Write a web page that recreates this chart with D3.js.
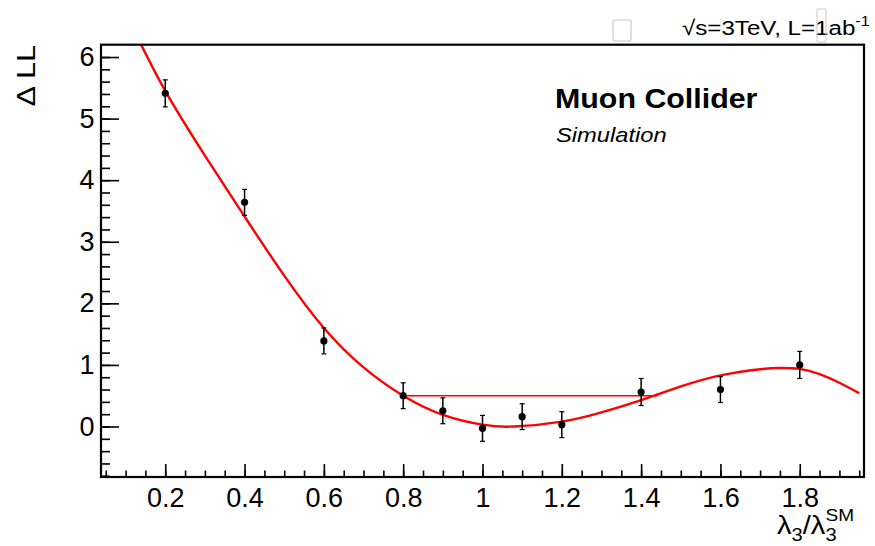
<!DOCTYPE html>
<html><head><meta charset="utf-8">
<script src="https://cdn.jsdelivr.net/npm/d3@7"></script>
<style>
html,body{margin:0;padding:0;background:#fff;}
svg text{font-family:"Liberation Sans",Arial,sans-serif;fill:#000;}
</style></head>
<body>
<svg id="c" width="875" height="546"></svg>
<script>
// ---- data ----
const pointX = [0.2, 0.4, 0.6, 0.8, 0.9, 1.0, 1.1, 1.2, 1.4, 1.6, 1.8];
const pointY = [5.41, 3.64, 1.39, 0.50, 0.255, -0.03, 0.16, 0.03, 0.56, 0.60, 1.00];
const pointErr = [0.22, 0.21, 0.21, 0.21, 0.21, 0.21, 0.21, 0.21, 0.22, 0.21, 0.22];
const curveX = [0.12, 0.2, 0.3, 0.4, 0.5, 0.6, 0.7, 0.8, 0.9, 1.0, 1.08, 1.2, 1.3, 1.4, 1.5, 1.6, 1.7, 1.75, 1.8, 1.85, 1.9, 1.95];
const curveY = [6.45, 5.45, 4.40, 3.41, 2.45, 1.60, 0.96, 0.50, 0.19, 0.03, 0.0, 0.08, 0.23, 0.43, 0.65, 0.83, 0.93, 0.95, 0.935, 0.85, 0.71, 0.54];
const bandLevel = [0.5];
const bandRange = [0.81, 1.442];
const xMajor = [0.2, 0.4, 0.6, 0.8, 1.0, 1.2, 1.4, 1.6, 1.8];
const xLabels = ["0.2", "0.4", "0.6", "0.8", "1", "1.2", "1.4", "1.6", "1.8"];
const yMajor = [0, 1, 2, 3, 4, 5, 6];
const yLabels = ["0", "1", "2", "3", "4", "5", "6"];

// ---- layout ----
const L = 101, R = 864, T = 44.7, B = 477;
const x = d3.scaleLinear().domain([0.038, 1.962]).range([L, R]);
const y = d3.scaleLinear().domain([-0.82, 6.2]).range([B, T]);
const svg = d3.select("#c");

const xMinor = d3.range(1, 40).map(i => +(i * 0.05).toFixed(2)).filter(v => v > 0.038 && v < 1.962);
const yMinor = d3.range(-4, 31).map(i => +(i * 0.2).toFixed(2)).filter(v => v > -0.82 && v < 6.2);

// minor ticks
svg.append("g").attr("transform", `translate(0,${B})`)
  .call(d3.axisBottom(x).tickValues(xMinor).tickSizeInner(-6.5).tickSizeOuter(0).tickFormat(""))
  .call(g => { g.select(".domain").remove(); g.selectAll("line").attr("stroke", "#000").attr("stroke-width", 1.6); });
svg.append("g").attr("transform", `translate(${L},0)`)
  .call(d3.axisLeft(y).tickValues(yMinor).tickSizeInner(-9).tickSizeOuter(0).tickFormat(""))
  .call(g => { g.select(".domain").remove(); g.selectAll("line").attr("stroke", "#000").attr("stroke-width", 1.6); });

// major ticks
svg.append("g").attr("transform", `translate(0,${B})`)
  .call(d3.axisBottom(x).tickValues(xMajor).tickSizeInner(-13).tickSizeOuter(0).tickPadding(11)
    .tickFormat((d, i) => xLabels[i]))
  .call(g => {
    g.select(".domain").remove();
    g.selectAll("line").attr("stroke", "#000").attr("stroke-width", 1.6);
    g.selectAll("text").attr("font-size", 27).attr("font-family", "Liberation Sans, Arial, sans-serif").attr("fill", "#000");
  });
svg.append("g").attr("transform", `translate(${L},0)`)
  .call(d3.axisLeft(y).tickValues(yMajor).tickSizeInner(-18).tickSizeOuter(0).tickPadding(6.5)
    .tickFormat((d, i) => yLabels[i]))
  .call(g => {
    g.select(".domain").remove();
    g.selectAll("line").attr("stroke", "#000").attr("stroke-width", 1.6);
    g.selectAll("text").attr("font-size", 27).attr("font-family", "Liberation Sans, Arial, sans-serif").attr("fill", "#000");
  });

// clip
svg.append("clipPath").attr("id", "clip").append("rect")
  .attr("x", L).attr("y", T).attr("width", R - L).attr("height", B - T);

const plot = svg.append("g").attr("clip-path", "url(#clip)");

// band line
plot.append("line")
  .attr("x1", x(bandRange[0])).attr("x2", x(bandRange[1]))
  .attr("y1", y(bandLevel[0])).attr("y2", y(bandLevel[0]))
  .attr("stroke", "#ff0000").attr("stroke-width", 1.4);

// fit curve
const curveData = curveX.map((v, i) => [v, curveY[i]]);
plot.append("path").datum(curveData)
  .attr("d", d3.line().x(d => x(d[0])).y(d => y(d[1])).curve(d3.curveNatural))
  .attr("fill", "none").attr("stroke", "#ff0000").attr("stroke-width", 2.4);

// points with error bars
const pts = pointX.map((v, i) => ({ x: v, y: pointY[i], e: pointErr[i] }));
const pg = plot.selectAll("g.pt").data(pts).enter().append("g").attr("class", "pt");
pg.append("line").attr("x1", d => x(d.x)).attr("x2", d => x(d.x))
  .attr("y1", d => y(d.y + d.e)).attr("y2", d => y(d.y - d.e)).attr("stroke", "#000").attr("stroke-width", 1.5);
pg.append("line").attr("x1", d => x(d.x) - 2.5).attr("x2", d => x(d.x) + 2.5)
  .attr("y1", d => y(d.y + d.e)).attr("y2", d => y(d.y + d.e)).attr("stroke", "#000").attr("stroke-width", 1.2);
pg.append("line").attr("x1", d => x(d.x) - 2.5).attr("x2", d => x(d.x) + 2.5)
  .attr("y1", d => y(d.y - d.e)).attr("y2", d => y(d.y - d.e)).attr("stroke", "#000").attr("stroke-width", 1.2);
pg.append("circle").attr("cx", d => x(d.x)).attr("cy", d => y(d.y)).attr("r", 3.6).attr("fill", "#000");

// frame
svg.append("rect").attr("x", L).attr("y", T).attr("width", R - L).attr("height", B - T)
  .attr("fill", "none").attr("stroke", "#000").attr("stroke-width", 2.2);

// y title
svg.append("text").attr("transform", "translate(35,45) rotate(-90) scale(1.18,1)")
  .attr("text-anchor", "end").attr("font-size", 26).style("white-space", "pre").text("Δ LL");

// x title
const xt = svg.append("text").attr("transform", "translate(777,534) scale(1.12,1)").attr("font-size", 26);
xt.append("tspan").text("λ");
xt.append("tspan").attr("font-size", 18).attr("dy", 7).text("3");
xt.append("tspan").attr("dy", -7).text("/λ");
xt.append("tspan").attr("font-size", 18).attr("dy", 7).text("3");
xt.append("tspan").attr("font-size", 17).attr("dx", -10).attr("dy", -20).text("SM");

// labels
svg.append("text").attr("transform", "translate(555,108) scale(1.085,1)")
  .attr("font-size", 28).attr("font-weight", "bold").text("Muon Collider");
svg.append("text").attr("transform", "translate(556,142) scale(1.13,1)")
  .attr("font-size", 21).attr("font-style", "italic").text("Simulation");

// top text
const tt = svg.append("text").attr("transform", "translate(682,35) scale(1.15,1)").attr("font-size", 21);
tt.append("tspan").text("√s=3TeV, L=1ab");
tt.append("tspan").attr("font-size", 14).attr("dy", -9).text("-1");

// glyph boxes
svg.append("rect").attr("x", 613).attr("y", 20).attr("width", 18).attr("height", 21).attr("rx", 2)
  .attr("fill", "none").attr("stroke", "#c8c8c8").attr("stroke-width", 1.2);
svg.append("rect").attr("x", 817).attr("y", 9).attr("width", 9).attr("height", 33).attr("rx", 1)
  .attr("fill", "none").attr("stroke", "#c8c8c8").attr("stroke-width", 1);
</script>
</body></html>
